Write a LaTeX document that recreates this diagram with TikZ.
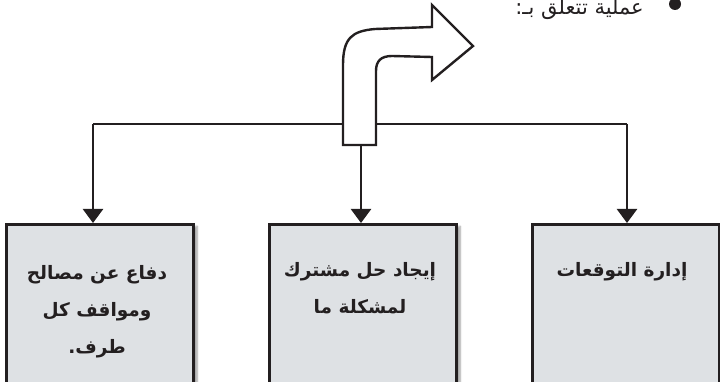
\documentclass[tikz,border=0pt]{standalone}
\usepackage{fontspec}
\TeXXeTstate=1
\newfontfamily\arabicfont[Script=Arabic]{DejaVu Sans}
\usetikzlibrary{arrows.meta,shadows.blur}
\definecolor{boxfill}{HTML}{DEE1E4}
\definecolor{ink}{HTML}{231F20}
\tikzset{
  conn/.style={draw=ink,line width=2.4pt,-{Triangle[width=20pt,length=14pt]}},
  trunk/.style={draw=ink,line width=2.4pt},
  card/.style={draw=ink,line width=2.6pt,fill=boxfill,minimum width=187pt,minimum height=164pt,
    anchor=north west,inner sep=0pt,
    blur shadow={shadow xshift=4pt,shadow yshift=-2pt,shadow blur steps=6,shadow opacity=35}},
  cardtext/.style={font=\arabicfont\bfseries\fontsize{18.5}{37}\selectfont,align=center,text=ink},
  bent/.style={draw=ink,line width=2.4pt,fill=white,line join=miter},
}
\begin{document}
\begin{tikzpicture}[x=1pt,y=-1pt]
\useasboundingbox (0,0) rectangle (720,382);
\clip (0,0) rectangle (720,382);
% boxes
\node[card] (b1) at (5,223) {};
\node[card] (b2) at (268,223) {};
\node[card] (b3) at (531,223) {};
\node[cardtext,anchor=north] (t1) at (97,262) {\beginR دفاع عن مصالح\endR\\\beginR ومواقف كل\endR\\\beginR طرف.\endR};
\node[cardtext,anchor=north] (t2) at (360,259) {\beginR إيجاد حل مشترك\endR\\\beginR لمشكلة ما\endR};
\node[cardtext,anchor=north] (t3) at (622,259) {\beginR إدارة التوقعات\endR};
% header text
\node[font=\arabicfont\fontsize{21}{23}\selectfont,anchor=east,text=ink,inner sep=1pt] (hd) at (645,9) {\beginR عملية تتعلق بـ:\endR};
\node[circle,fill=ink,minimum size=12pt,inner sep=0pt] (bul) at (675,4) {};
% connectors
\coordinate (L) at (93,124);
\coordinate (R) at (627,124);
\coordinate (hub) at (361,145);
\draw[conn] (L) -- (L |- b1.north);
\draw[conn] (R) -- (R |- b3.north);
\draw[trunk] (L) -- (R);
\draw[conn] (hub) -- (hub |- b2.north);
% bent arrow
\draw[bent] (343,145) -- (343,65) .. controls (343,38) and (352,31) .. (375,29)
  -- (432,27) -- (432,5) -- (473,46) -- (432,80) -- (432,57) -- (392,56)
  .. controls (381,56) and (376,61) .. (376,71) -- (376,145) -- cycle;
\end{tikzpicture}
\end{document}
